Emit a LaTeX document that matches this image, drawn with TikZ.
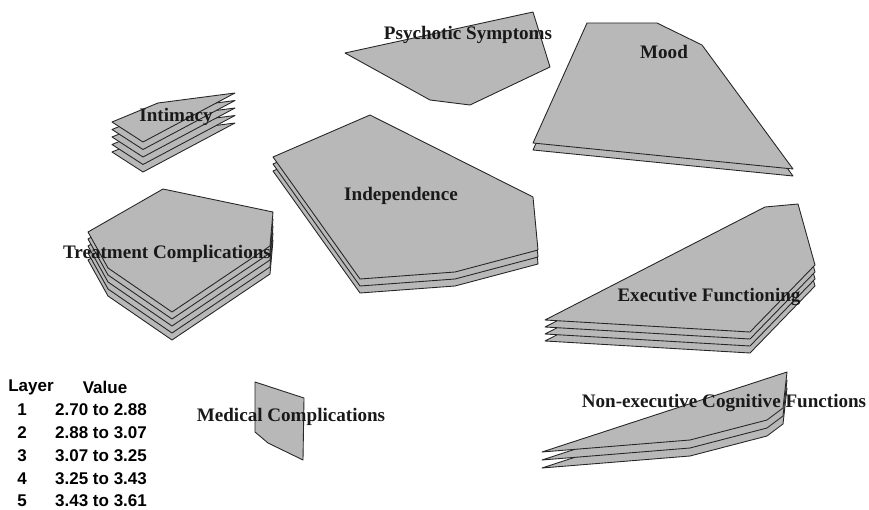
\documentclass[tikz,border=0pt]{standalone}
\usepackage{fontspec}
\setmainfont{Liberation Serif}
\newfontfamily\legendfont{Liberation Sans}

\tikzset{
  slab/.style={fill=black!28, draw=black!85, line width=0.75pt, line join=round},
  areaname/.style={font=\fontsize{16.3}{18}\selectfont\bfseries, text=black!90, inner sep=0pt},
  legend/.style={font=\legendfont\fontsize{14.5}{16}\selectfont\bfseries, inner sep=0pt}
}

\begin{document}
\begin{tikzpicture}[x=0.03cm, y=-0.03cm]
    \useasboundingbox (0,0) rectangle (869,510);

    % Psychotic Symptoms (one layer)
    \filldraw[slab] (345,53) -- (533,12) -- (550,67) -- (470,105) -- (430,100) -- cycle;
    \node[areaname] (psy) at (468,35) {Psychotic Symptoms};

    % Mood (two layers)
    \foreach \k in {1,0}
      \filldraw[slab, shift={(0,7*\k)}] (533,143) -- (587,23) -- (657,23) -- (702,45) -- (793,169) -- cycle;
    \node[areaname] (mood) at (664,52) {Mood};

    % Intimacy (five layers)
    \foreach \k in {4,3,2,1,0}
      \filldraw[slab, shift={(0,7.5*\k)}] (112,122) -- (158,103) -- (235,93) -- (143,142) -- cycle;
    \node[areaname] (intim) at (176,117) {Intimacy};

    % Independence (three layers)
    \foreach \k in {2,1,0}
      \filldraw[slab, shift={(0,7*\k)}] (273,157) -- (370,115) -- (533,197) -- (538,250) -- (455,272) -- (360,279) -- cycle;
    \node[areaname] (indep) at (401,196) {Independence};

    % Treatment Complications (five layers)
    \foreach \k in {4,3,2,1,0}
      \filldraw[slab, shift={(0,7*\k)}] (88,232) -- (163,189) -- (273,212) -- (270,246) -- (172,312) -- (108,268) -- cycle;
    \node[areaname] (treat) at (167,254) {Treatment Complications};

    % Executive Functioning (four layers)
    \foreach \k in {3,2,1,0}
      \filldraw[slab, shift={(0,7*\k)}] (545,320) -- (765,207) -- (798,204) -- (815,265) -- (750,332) -- cycle;
    \node[areaname] (exec) at (709,297) {Executive Functioning};

    % Non-executive Cognitive Functions (three layers)
    \foreach \k in {2,1,0}
      \filldraw[slab, shift={(0,8*\k)}] (542,452) -- (787,372) -- (783,408) -- (767,420) -- (690,440) -- cycle;
    \node[areaname] (nonexec) at (724,403) {Non-executive Cognitive Functions};

    % Medical Complications (one layer)
    \filldraw[slab] (255,382) -- (304,398) -- (303,460) -- (268,443) -- (255,432) -- cycle;
    \node[areaname] (medic) at (291,417) {Medical Complications};

    % Legend
    \node[legend] (hlayer) at (31,387) {Layer};
    \node[legend] (hvalue) at (105,387) {Value};
    \foreach \n/\v [count=\i] in {1/2.70 to 2.88, 2/2.88 to 3.07, 3/3.07 to 3.25, 4/3.25 to 3.43, 5/3.43 to 3.61} {
      \node[legend] (num\i) at (22,387+22.8*\i) {\n};
      \node[legend, anchor=west] (val\i) at (55,387+22.8*\i) {\v};
    }
\end{tikzpicture}
\end{document}
